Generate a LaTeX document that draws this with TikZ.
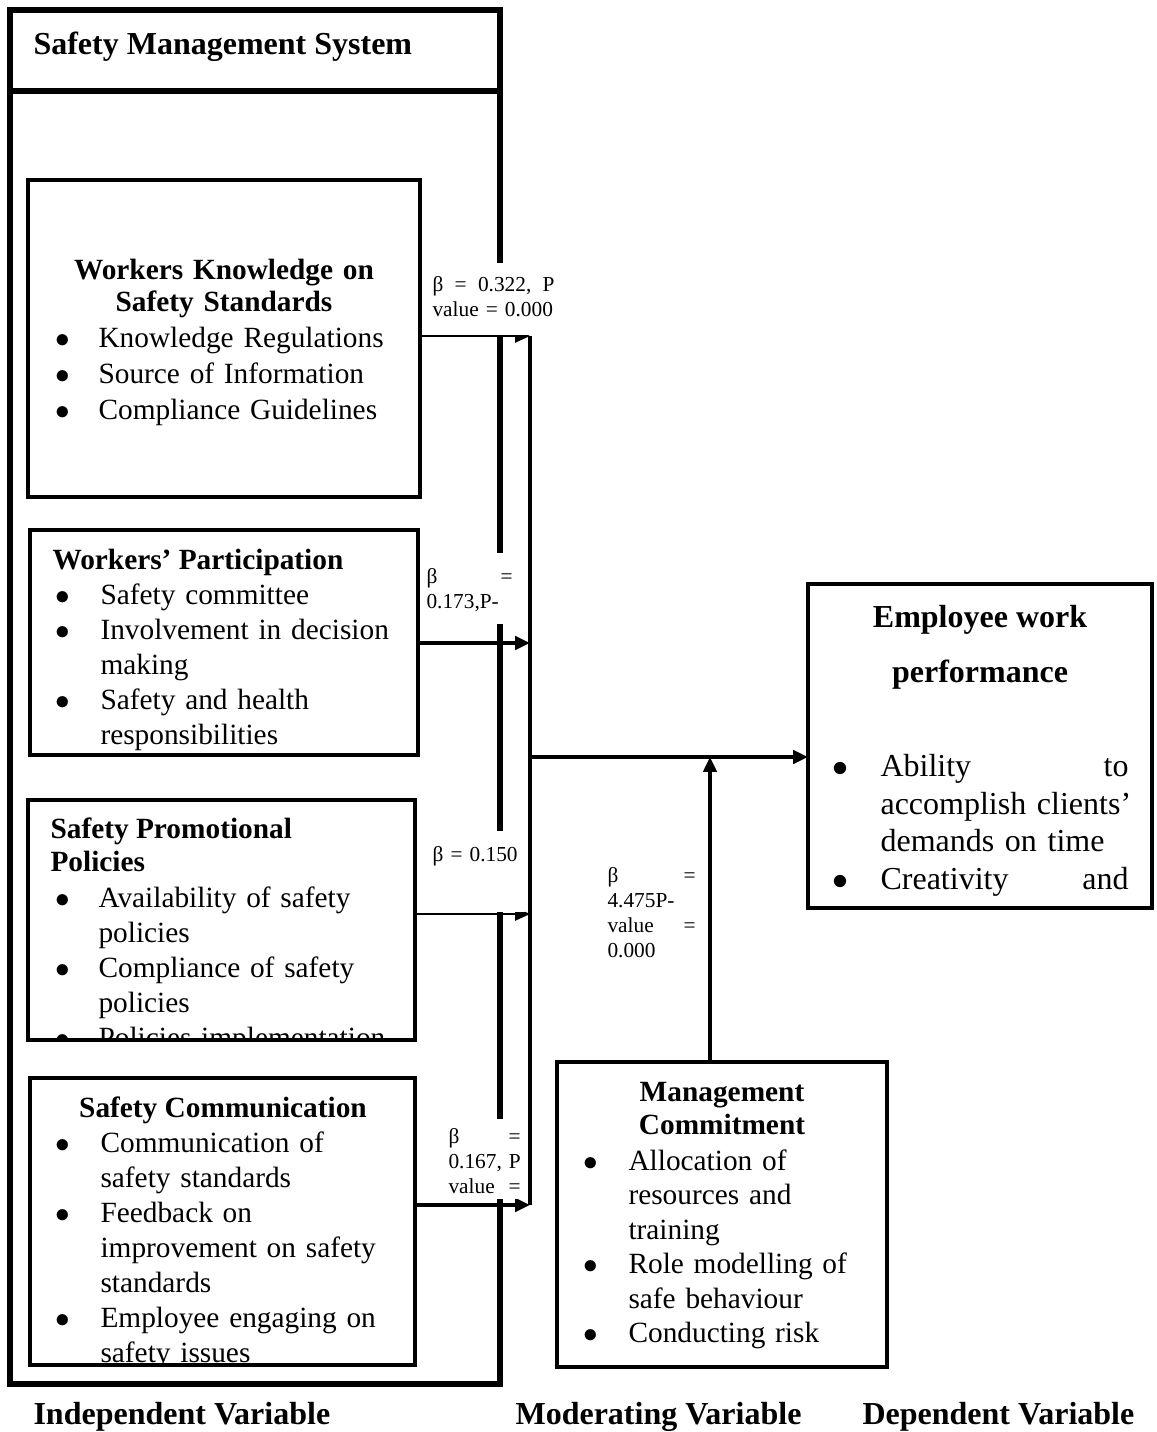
\documentclass[tikz,border=0pt]{standalone}
\usepackage{fontspec}
\setmainfont{Liberation Serif}
\usetikzlibrary{arrows.meta,fit}
\newdimen\px \px=0.375pt
\newcommand{\fs}[2]{\fontsize{#1}{#2}\selectfont}
\newcommand{\up}[1]{\rule{0pt}{#1\px}}
\newcommand{\dn}[1]{\rule[-#1\px]{0pt}{#1\px}}
\def\bw{46}
\newcommand{\bi}{\makebox[\bw\px][l]{\makebox[20\px]{$\bullet$}}}
\newcommand{\bc}{\hspace*{\bw\px}}

\begin{document}
\begin{tikzpicture}[x=0.375pt,y=-0.375pt,
  frame/.style={draw,line width=1.9pt,inner sep=0pt,outer sep=0pt},
  box/.style={draw,line width=1.5pt,inner sep=0pt,outer sep=0pt},
  ttl/.style={font=\fs{11}{12}\bfseries,inner sep=0pt,align=center},
  lst/.style={font=\fs{11}{13.125},inner sep=0pt,anchor=north west,align=left},
  beta/.style={font=\fs{8}{9.375},fill=white,inner xsep=6\px,inner ysep=0pt,anchor=north west,align=left},
  arr/.style={-{Triangle[length=5.6pt,width=5pt]},line width=1.3pt},
  tarr/.style={arr,line width=0.5pt}]
  \useasboundingbox (0,0) rectangle (1157,1432);
  \node[frame,fit={(10,91) (500,1384)}] (sms) {};
  \node[frame,fit={(10,10) (500,91)}] (smshead) {};
  \node[ttl,font=\fs{12}{14}\bfseries,anchor=north west] (smshead-t) at (33,22) {\up{32}Safety Management System};

  \node[box,fit={(28,180) (420,497)}] (kno) {};
  \node[box,fit={(30,530) (418,755)}] (par) {};
  \node[box,fit={(28,800) (415,1040)}] (pro) {};
  \node[box,fit={(30,1078) (415,1365)}] (com) {};
  \node[box,fit={(808,584) (1152,908)}] (perf) {};
  \node[box,fit={(557,1062) (887,1367)}] (mgmt) {};

  \node[ttl,text width=392\px,anchor=north] (kno-t) at (224,249) {\up{30}Workers Knowledge on\\Safety Standards};
  \node[lst,font=\fs{11}{13.5},text width=365\px] (kno-l) at (52,317) {\up{30}\bi Knowledge Regulations\\\bi Source of Information\\\bi Compliance Guidelines};

  \begin{scope}
    \clip (par.north west) rectangle (par.south east);
    \node[ttl,anchor=north west] (par-t) at (52,539) {\up{30}Workers' Participation};
    \node[lst,text width=360\px] (par-l) at (52,574) {\def\bw{48}\up{30}\bi Safety committee\\\bi Involvement in decision\\\bc making\\\bi Safety and health\\\bc responsibilities};
  \end{scope}

  \begin{scope}
    \clip (pro.north west) rectangle (pro.south east);
    \node[ttl,font=\fs{11}{12.375}\bfseries,anchor=north west,align=left] (pro-t) at (50,808) {\up{30}Safety Promotional\\Policies};
    \node[lst,text width=360\px] (pro-l) at (52,877) {\up{30}\bi Availability of safety\\\bc policies\\\bi Compliance of safety\\\bc policies\\\bi Policies implementation};
  \end{scope}

  \begin{scope}
    \clip (com.north west) rectangle (com.south east);
    \node[ttl,anchor=north] (com-t) at (223,1087) {\up{30}Safety Communication};
    \node[lst,text width=360\px] (com-l) at (52,1122) {\def\bw{48}\up{30}\bi Communication of\\\bc safety standards\\\bi Feedback on\\\bc improvement on safety\\\bc standards\\\bi Employee engaging on\\\bc safety issues};
  \end{scope}

  \node[ttl,font=\fs{12}{20.625}\bfseries,anchor=north] (perf-t) at (980,595) {\up{32}Employee work\\performance};
  \node[lst,font=\fs{12}{14.1},text width=298\px] (perf-l) at (830,744) {\def\bw{50}\up{32}\bi Ability\hfill to\\\bc\mbox{accomplish clients'}\\\bc\mbox{demands on time}\\\bi Creativity\hfill and};

  \node[ttl,font=\fs{11}{12.375}\bfseries,anchor=north] (mgmt-t) at (722,1071) {\up{30}Management\\Commitment};
  \node[lst,font=\fs{11}{12.9},text width=300\px] (mgmt-l) at (580,1140) {\def\bw{48}\up{30}\bi Allocation of\\\bc resources and\\\bc training\\\bi Role modelling of\\\bc safe behaviour\\\bi Conducting risk};

  \node[ttl,font=\fs{12}{14}\bfseries,anchor=north west] (iv) at (33,1392) {\up{32}Independent Variable};
  \node[ttl,font=\fs{12}{14}\bfseries,anchor=north west] (mv) at (515,1392) {\up{32}Moderating Variable};
  \node[ttl,font=\fs{12}{14}\bfseries,anchor=north west] (dv) at (862,1392) {\up{32}Dependent Variable};

  \coordinate (j1) at (530,336);
  \coordinate (j2) at (530,643);
  \coordinate (j3) at (530,914);
  \coordinate (j4) at (530,1205);
  \coordinate (jm) at (530,757);
  \coordinate (mx) at (710,757);
  \draw[tarr] (kno.east |- j1) -- (j1);
  \draw[arr] (par.east |- j2) -- (j2);
  \draw[tarr] (pro.east |- j3) -- (j3);
  \draw[arr] (com.east |- j4) -- (j4);
  \draw[arr] (jm) -- (perf.west |- jm);
  \draw[arr] (mgmt.north -| mx) -- (mx);

  \node[beta,text width=122\px] (b1) at (426,262) {\up{29}β\hfill=\hfill 0.322,\hfill P\\value = 0.000\dn{18}};
  \node[beta,text width=86\px] (b2) at (420,552) {\up{31}β\hfill=\\0.173,P-\dn{15}};
  \node[beta,text width=86\px] (b3) at (426,830) {\up{31}β = 0.150\dn{50}};
  \node[beta,text width=72\px] (b4) at (442,1118) {\up{25}β\hfill=\\\mbox{0.167, P}\\value\hfill=\dn{5}};
  \node[beta,text width=88\px] (b5) at (601,862) {\up{20}β\hfill=\\4.475P-\\value\hfill=\\0.000};
  \draw[line width=1.5pt] (j1) -- (j4);
\end{tikzpicture}
\end{document}
